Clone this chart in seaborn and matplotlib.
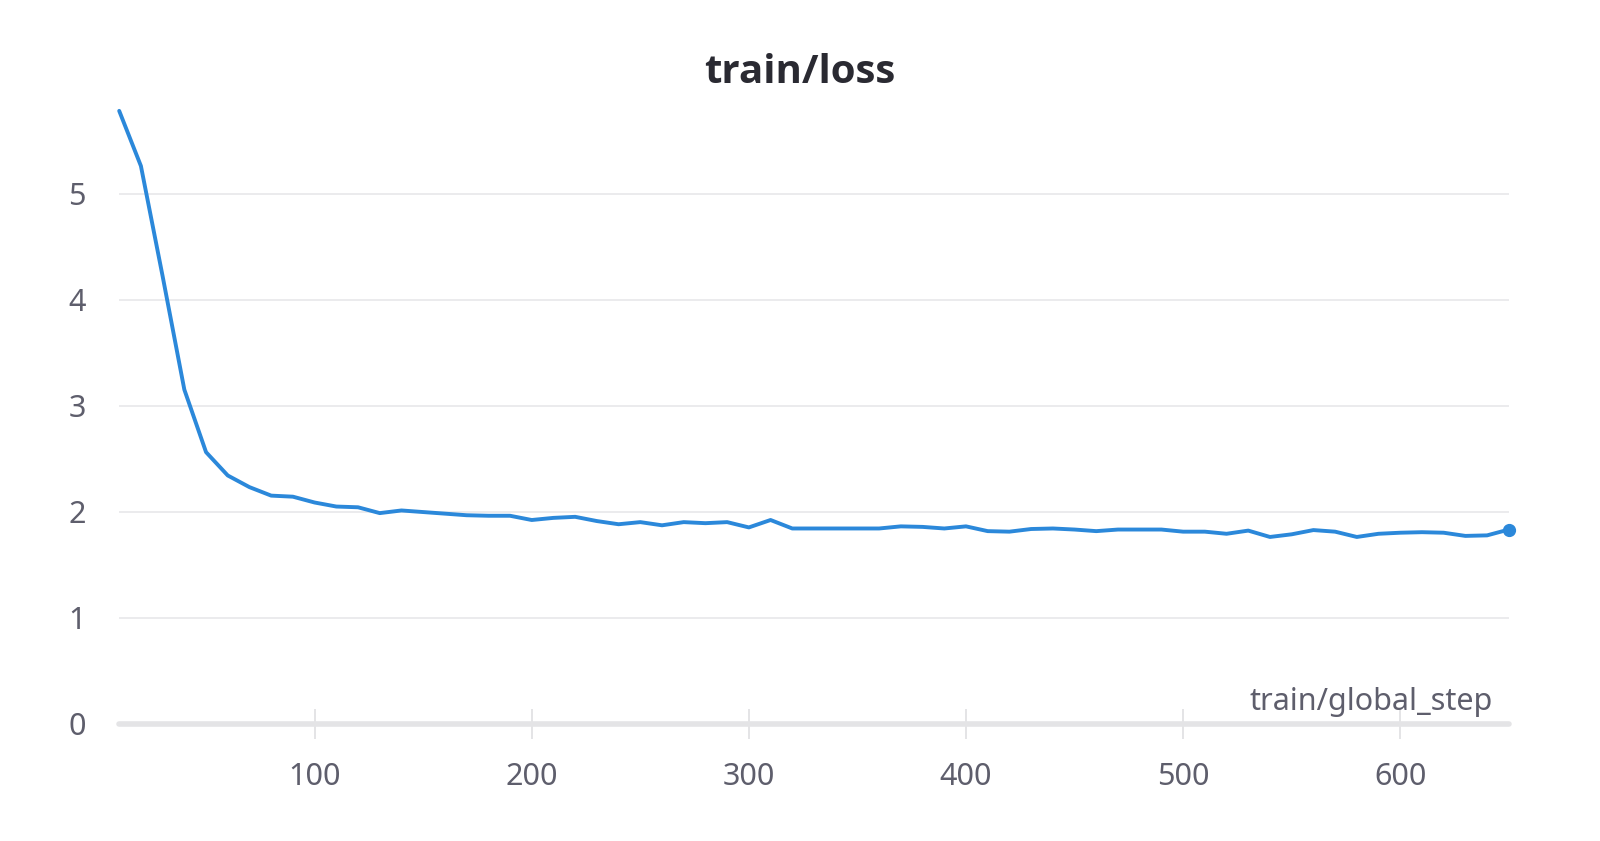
import matplotlib
matplotlib.use("Agg")
import matplotlib.pyplot as plt
import seaborn as sns
import pandas as pd

# train/loss logged every 10 global steps
steps = [10, 20, 30, 40, 50, 60, 70, 80, 90, 100,
         110, 120, 130, 140, 150, 160, 170, 180, 190, 200,
         210, 220, 230, 240, 250, 260, 270, 280, 290, 300,
         310, 320, 330, 340, 350, 360, 370, 380, 390, 400,
         410, 420, 430, 440, 450, 460, 470, 480, 490, 500,
         510, 520, 530, 540, 550, 560, 570, 580, 590, 600,
         610, 620, 630, 640, 650]
loss = [5.78, 5.26, 4.22, 3.15, 2.56, 2.34, 2.23, 2.15, 2.14, 2.085,
        2.047, 2.04, 1.985, 2.01, 1.995, 1.98, 1.965, 1.96, 1.96, 1.92,
        1.94, 1.95, 1.91, 1.88, 1.90, 1.87, 1.90, 1.89, 1.90, 1.85,
        1.92, 1.84, 1.84, 1.84, 1.84, 1.84, 1.86, 1.855, 1.84, 1.86,
        1.815, 1.81, 1.835, 1.84, 1.83, 1.815, 1.83, 1.83, 1.83, 1.81,
        1.81, 1.79, 1.82, 1.76, 1.785, 1.825, 1.81, 1.76, 1.79, 1.80,
        1.805, 1.80, 1.77, 1.775, 1.83]
x_ticks = [100, 200, 300, 400, 500, 600]
y_ticks = [0, 1, 2, 3, 4, 5]

df = pd.DataFrame({"train/global_step": steps, "train/loss": loss})

sns.set_theme(style="white")
plt.rcParams["font.family"] = ["Noto Sans", "DejaVu Sans"]

blue = "#2b88da"
grey_txt = "#5e5e6c"
grid_c = "#e6e6e8"

fig = plt.figure(figsize=(16, 8.41), dpi=100)
ax = fig.add_axes([0.0745, 0.1397, 0.8685, 0.731])

sns.lineplot(data=df, x="train/global_step", y="train/loss", color=blue,
             linewidth=2.8, ax=ax, clip_on=False, zorder=3)
# last point marker
ax.plot(steps[-1:], loss[-1:], "o", color=blue, markersize=8.5, clip_on=False, zorder=4)

ax.set_xlim(10, 650)
ax.set_ylim(0, 5.8)
ax.set_xticks(x_ticks)
ax.set_yticks(y_ticks)

for s in ax.spines.values():
    s.set_visible(False)

# horizontal grid lines (y=0 is the baseline)
for y in y_ticks[1:]:
    ax.axhline(y, color=grid_c, linewidth=1.1, zorder=0)
ax.axhline(0, color="#e4e4e6", linewidth=4, zorder=1, clip_on=False)

ax.tick_params(axis="x", bottom=True, direction="inout", length=22, width=1.4,
               color="#e4e4e6", labelsize=22, labelcolor=grey_txt, pad=17)
ax.tick_params(axis="y", left=False, length=0, labelsize=22, labelcolor=grey_txt, pad=24)

ax.set_xlabel("train/global_step", fontsize=22, color=grey_txt, ha="right", va="baseline")
ax.xaxis.set_label_coords(1 - 16 / 1390, 14 / 615)
ax.set_ylabel("")

fig.text(0.5, 1 - 83 / 841, "train/loss", ha="center", va="baseline",
         fontsize=29, fontweight="bold", family=["Open Sans", "DejaVu Sans"],
         color="#2a2a32")

fig.savefig("out.png", dpi=100, facecolor="white")
